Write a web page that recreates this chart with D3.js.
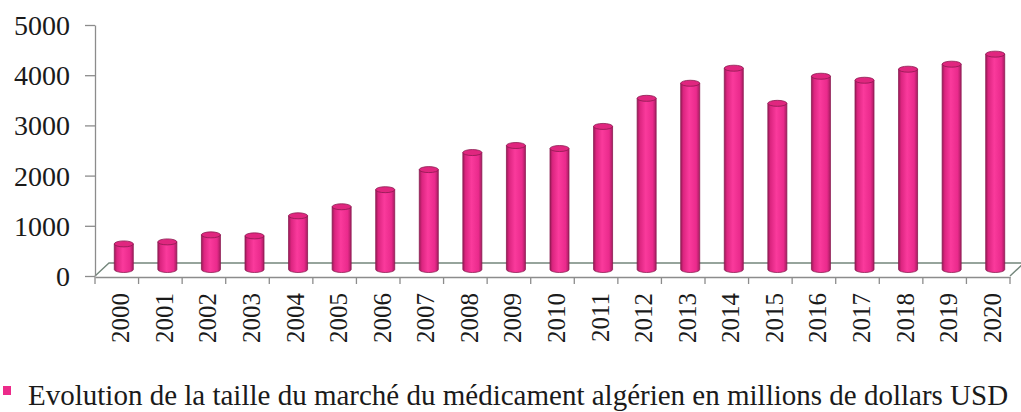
<!DOCTYPE html>
<html>
	<head>
		<meta charset="utf-8" />
		<title>Marché du médicament algérien</title>
		<script src="https://cdn.jsdelivr.net/npm/d3@7"></script>
		<style>
			body {
				margin: 0;
				background: #fff;
			}
			svg {
				display: block;
			}
			.axis path,
			.axis line {
				stroke: #8c8c8c;
				stroke-width: 1.3px;
			}
			.axis text {
				fill: #1a1a1a;
			}
		</style>
	</head>
	<body>
		<svg id="chart"></svg>
		<script>
			const years = [
				'2000', '2001', '2002', '2003', '2004', '2005', '2006',
				'2007', '2008', '2009', '2010', '2011', '2012', '2013',
				'2014', '2015', '2016', '2017', '2018', '2019', '2020',
			];
			const market = [
				510, 550, 690, 670, 1070, 1250, 1590, 1990, 2330, 2470, 2410,
				2850, 3410, 3710, 4010, 3310, 3850, 3770, 3990, 4090, 4290,
			];
			const yTicks = [0, 1000, 2000, 3000, 4000, 5000];
			const seriesName =
				'Evolution de la taille du marché du médicament algérien en millions de dollars USD';

			const width = 1021;
			const height = 412;
			const serif = 'Liberation Serif, Times New Roman, serif';
			// 3d floor depth
			const depthX = 14;
			const depthY = -13;

			const svg = d3
				.select('#chart')
				.attr('width', width)
				.attr('height', height)
				.attr('font-family', serif);

			const defs = svg.append('defs');
			const grad = defs
				.append('linearGradient')
				.attr('id', 'cyl')
				.attr('x1', '0%')
				.attr('x2', '100%');
			[
				[0, '#9a1b58'],
				[0.14, '#dc2580'],
				[0.45, '#fa3a9c'],
				[0.82, '#ea2a8c'],
				[1, '#a61d60'],
			].forEach(([o, c]) =>
				grad.append('stop').attr('offset', o).attr('stop-color', c)
			);

			const x = d3.scaleBand().domain(years).range([95, 1010]);
			const y = d3.scaleLinear().domain([0, 5000]).range([276, 25]);

			// floor
			svg.append('path')
				.attr(
					'd',
					`M${x.range()[0]},${y(0)} l${depthX},${depthY} L${x.range()[1] + depthX},${y(0) + depthY} l${-depthX},${-depthY}`
				)
				.attr('fill', 'none')
				.attr('stroke', '#74877c')
				.attr('stroke-width', 1.4);

			// y axis
			svg.append('g')
				.attr('class', 'axis')
				.attr('transform', `translate(${x.range()[0]},0)`)
				.call(
					d3
						.axisLeft(y)
						.tickValues(yTicks)
						.tickFormat(d3.format('d'))
						.tickSize(10)
						.tickSizeOuter(0)
						.tickPadding(15)
				)
				.attr('font-family', serif)
				.call((g) => g.selectAll('text').attr('font-size', 28).attr('dy', '0.34em'));

			// bars (cylinders)
			const bw = 19;
			const ry = 3;
			const bars = svg
				.append('g')
				.selectAll('g')
				.data(years.map((yr, i) => ({ yr, v: market[i] })))
				.join('g')
				.attr(
					'transform',
					(d) =>
						`translate(${x(d.yr) + x.bandwidth() / 2 + depthX / 2 - bw / 2},0)`
				);

			bars.append('path')
				.attr('d', (d) => {
					const t = y(d.v) + depthY / 2;
					const b = y(0) + depthY / 2;
					return `M0,${t} L0,${b} A${bw / 2},${ry} 0 0 0 ${bw},${b} L${bw},${t} Z`;
				})
				.attr('fill', 'url(#cyl)')
				.attr('stroke', '#8c1a50')
				.attr('stroke-width', 0.8);

			bars.append('ellipse')
				.attr('cx', bw / 2)
				.attr('cy', (d) => y(d.v) + depthY / 2)
				.attr('rx', bw / 2)
				.attr('ry', ry)
				.attr('fill', '#e0267f')
				.attr('stroke', '#8c1a50')
				.attr('stroke-width', 0.8);

			// x axis (front edge of floor)
			svg.append('g')
				.attr('class', 'axis')
				.attr('transform', `translate(0,${y(0) + 1})`)
				.call(d3.axisBottom(x).tickSize(0).tickSizeOuter(0))
				.attr('font-family', serif)
				.call((g) => {
					g.selectAll('.tick line').remove();
					g.selectAll('.tick text')
						.attr('font-size', 25)
						.attr('transform', 'rotate(-90)')
						.attr('text-anchor', 'end')
						.attr('x', -16)
						.attr('y', 4)
						.attr('dy', '0.34em');
				});

			// category boundary ticks
			svg.append('g')
				.selectAll('line')
				.data(years.concat(['end']))
				.join('line')
				.attr('x1', (d, i) => x.range()[0] + i * x.bandwidth())
				.attr('x2', (d, i) => x.range()[0] + i * x.bandwidth())
				.attr('y1', y(0) + 1)
				.attr('y2', y(0) + 8)
				.attr('stroke', '#8c8c8c')
				.attr('stroke-width', 1.3);

			// legend
			const legend = svg.append('g').attr('transform', 'translate(3,386)');
			legend
				.append('rect')
				.attr('width', 8)
				.attr('height', 9)
				.attr('fill', '#ec2a8a');
			legend
				.append('text')
				.attr('x', 25)
				.attr('y', 19)
				.attr('font-family', serif)
				.attr('font-size', 29)
				.attr('fill', '#1a1a1a')
				.text(seriesName);
		</script>
	</body>
</html>
